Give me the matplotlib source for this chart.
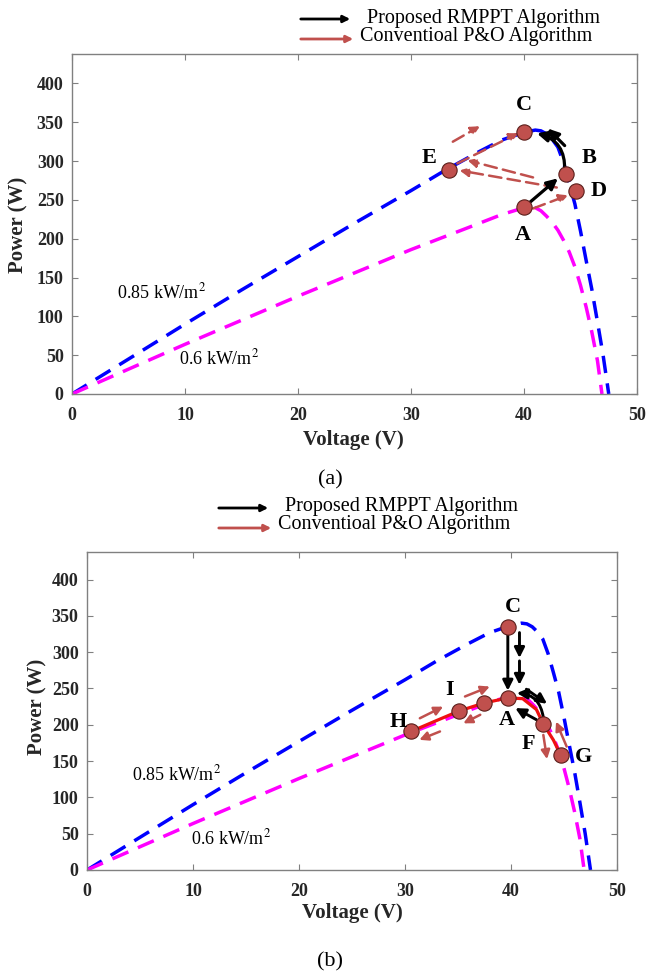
import matplotlib
matplotlib.use('Agg')
import matplotlib.pyplot as plt

plt.rcParams['font.family'] = ['Liberation Serif', 'DejaVu Serif']
plt.rcParams['mathtext.fontset'] = 'stix'

# ---------------- data ----------------
v_085 = [0, 5, 10, 15, 20, 25, 30, 33, 36, 38, 40, 41, 41.5, 42, 42.5, 43, 43.5, 44, 44.5,
         45, 45.5, 46, 46.5, 47, 47.5]
p_085 = [0, 45, 90, 134, 177, 220, 262, 288, 312, 327, 337, 340, 339, 335, 328, 318, 298, 272,
         245, 210, 172, 135, 93, 50, 0]
v_06 = [0, 10, 20, 30, 35, 38, 40, 40.5, 41, 41.5, 42, 42.5, 43, 43.5, 44, 44.5, 45, 45.5,
        46, 46.5, 46.9]
p_06 = [0, 64, 126, 186, 214, 231, 240, 242, 240, 236, 229, 221, 211, 198, 183, 164, 140, 112,
        80, 43, 0]

x_ticks = [0, 10, 20, 30, 40, 50]
y_ticks = [0, 50, 100, 150, 200, 250, 300, 350, 400]

# operating points, panel (a)
pts_a_names = ['A', 'B', 'C', 'D', 'E']
pts_a_v = [40.0, 43.7, 40.0, 44.6, 33.4]
pts_a_p = [241, 284, 337, 261, 288]

# operating points, panel (b)
pts_b_names = ['C', 'A', '', 'I', 'H', 'F', 'G']
pts_b_v = [39.7, 39.7, 37.45, 35.1, 30.6, 43.05, 44.7]
pts_b_p = [335, 237, 230, 219, 191, 201, 158]

# red tracking path in panel (b)
path_b_v = [30.6, 33.0, 35.1, 37.45, 39.7, 41.1, 42.4, 43.05, 44.0, 44.7]
path_b_p = [191, 206, 219, 230, 237, 236, 221, 201, 179, 158]

# arrows: (v_start, p_start, v_end, p_end)
black_a = [(40.0, 240.5, 43.0, 277.8), (43.6, 320, 42.1, 342)]
black_a_curved = [(43.6, 288, 41.15, 335.7)]
red_a = [(40.8, 239, 43.9, 256), (42.9, 266, 34.3, 288), (40.8, 279, 35.0, 301),
         (34.1, 297, 39.5, 336), (33.7, 325, 36.1, 345)]

black_b = [(39.7, 325, 39.7, 247), (40.8, 327, 40.8, 292), (40.8, 288, 40.8, 255),
           (41.45, 249, 43.4, 229), (42.4, 207, 40.4, 223)]
black_b_curved = [(43.05, 210, 40.55, 243.7)]
red_b = [(31.4, 209, 33.6, 225), (35.66, 239, 38.0, 252.7), (37.1, 213.8, 35.5, 202),
         (33.3, 190.8, 31.35, 179.3), (43.05, 186, 43.4, 152.7), (45.25, 170, 44.25, 204.4)]

BLUE = '#0000ff'
MAG = '#ff00ff'
BROWN = '#c0504d'

fig = plt.figure(figsize=(6.46, 9.74), dpi=100)

def fx(px):
    return px / 646.0

def fy(py):
    return 1 - py / 974.0

ax_a = fig.add_axes([fx(72), fy(394), fx(637) - fx(72), fy(54) - fy(394)])
ax_b = fig.add_axes([fx(87), fy(870), fx(617) - fx(87), fy(552) - fy(870)])


def style(ax):
    ax.set_xlim(0, 50)
    ax.set_ylim(0, 438)
    ax.set_xticks(x_ticks)
    ax.set_yticks(y_ticks)
    ax.tick_params(direction='in', top=True, right=True, length=4, color='#808080',
                   labelsize=13, labelcolor='#262626')
    ax.tick_params(axis='x', pad=9)
    ax.tick_params(axis='y', pad=6)
    for s in ax.spines.values():
        s.set_color('#808080')
        s.set_linewidth(1.0)
    for lbl in ax.get_xticklabels() + ax.get_yticklabels():
        lbl.set_fontweight('bold')


def curves(ax):
    ax.plot(v_085, p_085, color=BLUE, lw=2.5, dashes=(5, 3), zorder=2)
    ax.plot(v_06, p_06, color=MAG, lw=2.5, dashes=(5, 3), zorder=2)


def arrow(ax, a, color, lw, ls='-', rad=None, ms=13):
    props = dict(arrowstyle='-|>', color=color, lw=lw, mutation_scale=ms,
                 shrinkA=0, shrinkB=0, linestyle=ls)
    if rad is not None:
        props['connectionstyle'] = 'arc3,rad=%s' % rad
    ax.annotate('', xy=(a[2], a[3]), xytext=(a[0], a[1]), arrowprops=props, zorder=4)


def markers(ax, names, vs, ps, offsets):
    ax.plot(vs, ps, 'o', ms=11, mfc=BROWN, mec='#5a1e1a', mew=0.8, zorder=6, ls='none')
    for n, v, p, off in zip(names, vs, ps, offsets):
        if n:
            ax.annotate(n, (v, p), xytext=off, textcoords='offset points', ha='center',
                        va='center', fontsize=16, fontweight='bold', zorder=7)


# ---- panel (a)
style(ax_a)
curves(ax_a)
for a in red_a:
    arrow(ax_a, a, BROWN, 1.8, ls=(0, (5, 2.5)), ms=13)
for a in black_a:
    arrow(ax_a, a, 'black', 2.3, ms=16)
for a in black_a_curved:
    arrow(ax_a, a, 'black', 2.3, rad=0.4, ms=16)
markers(ax_a, pts_a_names, pts_a_v, pts_a_p,
        [(-1, -20), (17, 11), (0, 20), (16, 0), (-15, 9)])
ax_a.text(4.0, 131, '0.85 kW/m$^2$', fontsize=13, ha='left', va='center')
ax_a.text(9.5, 46, '0.6 kW/m$^2$', fontsize=13, ha='left', va='center')

# ---- panel (b)
style(ax_b)
curves(ax_b)
ax_b.plot(path_b_v, path_b_p, color='#ee1111', lw=2.3, zorder=3)
for a in red_b:
    arrow(ax_b, a, BROWN, 1.8, ms=13)
for a in black_b:
    arrow(ax_b, a, 'black', 2.1, ms=15)
for a in black_b_curved:
    arrow(ax_b, a, 'black', 2.1, rad=0.4, ms=15)
markers(ax_b, pts_b_names, pts_b_v, pts_b_p,
        [(3.6, 14.4), (-1, -16), (0, 0), (-6.5, 15), (-9.4, 7), (-11, -14), (16, -1.5)])
ax_b.text(4.2, 131, '0.85 kW/m$^2$', fontsize=13, ha='left', va='center')
ax_b.text(9.8, 44, '0.6 kW/m$^2$', fontsize=13, ha='left', va='center')

# axis labels and captions
for (xl, yl, ylx, yly, cap, capy) in [(353, 440, 18, 225, '(a)', 480), (352, 913, 37, 707, '(b)', 962)]:
    fig.text(fx(xl), fy(yl), 'Voltage (V)', fontsize=15, fontweight='bold', ha='center',
             va='center', color='#262626')
    fig.text(fx(ylx), fy(yly), 'Power (W)', fontsize=15, fontweight='bold', ha='center',
             va='center', rotation=90, color='#262626')
    fig.text(fx(330), fy(capy), cap, fontsize=16, ha='center', va='center')

# legends
for dx, dy in [(0, 0), (-82, 489)]:
    fig.add_artist(matplotlib.patches.FancyArrowPatch(
        (298 + dx, 974 - (19 + dy)), (353 + dx, 974 - (19 + dy)), transform=None,
        arrowstyle='-|>', mutation_scale=10, color='black', lw=2))
    fig.add_artist(matplotlib.patches.FancyArrowPatch(
        (298 + dx, 974 - (39 + dy)), (356 + dx, 974 - (39 + dy)), transform=None,
        arrowstyle='-|>', mutation_scale=10, color=BROWN, lw=2))
    fig.text(fx(367 + dx), fy(18 + dy), 'Proposed RMPPT Algorithm', fontsize=14.5,
             ha='left', va='center')
    fig.text(fx(360 + dx), fy(36 + dy), 'Conventioal P&O Algorithm', fontsize=14.5,
             ha='left', va='center')

fig.savefig('out.png', dpi=100)
